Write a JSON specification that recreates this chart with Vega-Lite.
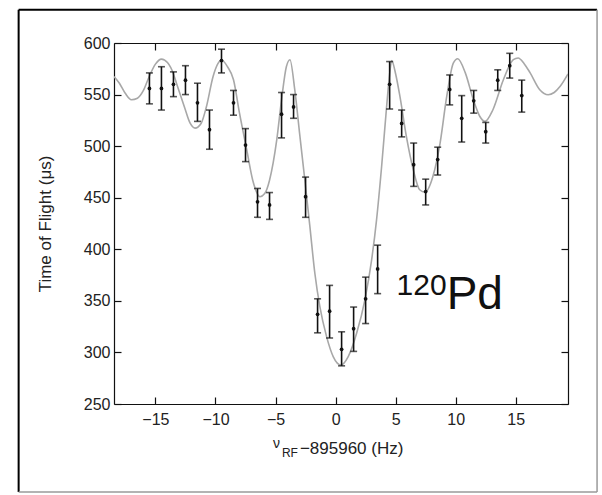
{
  "$schema": "https://vega.github.io/schema/vega-lite/v6.json",
  "autosize": "none",
  "width": 454,
  "height": 361,
  "padding": {"left": 114, "top": 43, "right": 34, "bottom": 91},
  "background": "white",
  "config": {
    "view": {"stroke": null},
    "font": "Liberation Sans",
    "axis": {
      "domainColor": "#111",
      "domainWidth": 1.2,
      "tickColor": "#111",
      "tickWidth": 1.2,
      "tickSize": -7,
      "grid": false,
      "labelFont": "Liberation Sans",
      "labelFontSize": 16,
      "labelColor": "#222",
      "titleFont": "Liberation Sans",
      "titleFontWeight": "normal",
      "titleColor": "#222"
    }
  },
  "datasets": {
    "meas": [
      {"f": -15.5, "tof": 556, "lo": 541, "hi": 571},
      {"f": -14.5, "tof": 556, "lo": 535, "hi": 577},
      {"f": -13.5, "tof": 560, "lo": 548, "hi": 572},
      {"f": -12.5, "tof": 564, "lo": 550, "hi": 578},
      {"f": -11.5, "tof": 542, "lo": 524, "hi": 561},
      {"f": -10.5, "tof": 516, "lo": 497, "hi": 535},
      {"f": -9.5, "tof": 583, "lo": 571, "hi": 594},
      {"f": -8.5, "tof": 542, "lo": 530, "hi": 554},
      {"f": -7.5, "tof": 501, "lo": 485, "hi": 517},
      {"f": -6.5, "tof": 446, "lo": 431, "hi": 459},
      {"f": -5.5, "tof": 443, "lo": 429, "hi": 455},
      {"f": -4.5, "tof": 531, "lo": 508, "hi": 552},
      {"f": -3.5, "tof": 538, "lo": 527, "hi": 550},
      {"f": -2.5, "tof": 451, "lo": 431, "hi": 470},
      {"f": -1.5, "tof": 337, "lo": 319, "hi": 352},
      {"f": -0.5, "tof": 340, "lo": 314, "hi": 365},
      {"f": 0.5, "tof": 303, "lo": 287, "hi": 320},
      {"f": 1.5, "tof": 323, "lo": 301, "hi": 344},
      {"f": 2.5, "tof": 352, "lo": 328, "hi": 373},
      {"f": 3.5, "tof": 381, "lo": 357, "hi": 404},
      {"f": 4.5, "tof": 560, "lo": 536, "hi": 582},
      {"f": 5.5, "tof": 522, "lo": 509, "hi": 535},
      {"f": 6.5, "tof": 482, "lo": 461, "hi": 503},
      {"f": 7.5, "tof": 456, "lo": 443, "hi": 468},
      {"f": 8.5, "tof": 487, "lo": 472, "hi": 499},
      {"f": 9.5, "tof": 555, "lo": 540, "hi": 569},
      {"f": 10.5, "tof": 527, "lo": 504, "hi": 549},
      {"f": 11.5, "tof": 544, "lo": 532, "hi": 554},
      {"f": 12.5, "tof": 514, "lo": 503, "hi": 523},
      {"f": 13.5, "tof": 564, "lo": 554, "hi": 574},
      {"f": 14.5, "tof": 578, "lo": 566, "hi": 590},
      {"f": 15.5, "tof": 549, "lo": 533, "hi": 564}
    ],
    "fit": [
      {"f": -18.45, "tof": 567.6}, {"f": -18.0, "tof": 561}, {"f": -17.5, "tof": 551},
      {"f": -17.0, "tof": 545}, {"f": -16.5, "tof": 546.5}, {"f": -16.0, "tof": 554},
      {"f": -15.5, "tof": 568}, {"f": -15.0, "tof": 579.5}, {"f": -14.5, "tof": 584.4},
      {"f": -14.0, "tof": 581}, {"f": -13.5, "tof": 570}, {"f": -13.25, "tof": 561},
      {"f": -12.6, "tof": 538.5}, {"f": -12.1, "tof": 522}, {"f": -11.7, "tof": 517.5},
      {"f": -11.2, "tof": 522}, {"f": -10.75, "tof": 538.5}, {"f": -10.2, "tof": 567.6},
      {"f": -9.8, "tof": 580}, {"f": -9.5, "tof": 583.5}, {"f": -9.0, "tof": 577},
      {"f": -8.5, "tof": 564.4}, {"f": -8.0, "tof": 532}, {"f": -7.4, "tof": 496.5},
      {"f": -6.9, "tof": 467}, {"f": -6.3, "tof": 451}, {"f": -5.9, "tof": 454},
      {"f": -5.5, "tof": 467}, {"f": -4.9, "tof": 506}, {"f": -4.5, "tof": 545},
      {"f": -4.1, "tof": 577}, {"f": -3.8, "tof": 583.8}, {"f": -3.4, "tof": 554.7},
      {"f": -3.0, "tof": 512.7}, {"f": -2.56, "tof": 467}, {"f": -2.14, "tof": 422},
      {"f": -1.73, "tof": 377}, {"f": -1.31, "tof": 344.4}, {"f": -0.75, "tof": 315.3},
      {"f": -0.2, "tof": 296}, {"f": 0.44, "tof": 287.8}, {"f": 1.05, "tof": 296},
      {"f": 1.75, "tof": 318.6}, {"f": 2.44, "tof": 351}, {"f": 3.0, "tof": 389.7},
      {"f": 3.41, "tof": 428.5}, {"f": 3.83, "tof": 480}, {"f": 4.25, "tof": 538.5},
      {"f": 4.5, "tof": 570}, {"f": 4.67, "tof": 582.9}, {"f": 5.0, "tof": 570},
      {"f": 5.36, "tof": 548}, {"f": 5.9, "tof": 509}, {"f": 6.47, "tof": 477},
      {"f": 7.0, "tof": 457.7}, {"f": 7.44, "tof": 455.4}, {"f": 8.1, "tof": 470.6},
      {"f": 8.7, "tof": 503}, {"f": 9.25, "tof": 548}, {"f": 9.8, "tof": 580.5},
      {"f": 10.17, "tof": 584.8}, {"f": 10.8, "tof": 571}, {"f": 11.47, "tof": 545},
      {"f": 12.0, "tof": 529}, {"f": 12.44, "tof": 524}, {"f": 13.1, "tof": 535.3},
      {"f": 13.97, "tof": 564.4}, {"f": 14.8, "tof": 583.8}, {"f": 15.2, "tof": 585.5},
      {"f": 15.7, "tof": 580}, {"f": 16.2, "tof": 571}, {"f": 17.0, "tof": 554.7},
      {"f": 17.7, "tof": 549.8}, {"f": 18.2, "tof": 552}, {"f": 18.7, "tof": 558},
      {"f": 19.35, "tof": 570}
    ]
  },
  "resolve": {"axis": {"x": "independent", "y": "independent"}},
  "layer": [
    {
      "data": {"name": "fit"},
      "mark": {"type": "line", "color": "#a8a8a8", "strokeWidth": 1.6, "interpolate": "monotone", "clip": true},
      "encoding": {
        "x": {"field": "f", "type": "quantitative", "scale": {"domain": [-18.45, 19.35], "nice": false, "zero": false},
              "axis": {"orient": "top", "labels": false, "title": null, "values": [-15, -10, -5, 0, 5, 10, 15]}},
        "y": {"field": "tof", "type": "quantitative", "scale": {"domain": [250, 600], "nice": false, "zero": false},
              "axis": {"orient": "right", "labels": false, "title": null, "values": [250, 300, 350, 400, 450, 500, 550, 600]}}
      }
    },
    {
      "data": {"name": "meas"},
      "mark": {"type": "rule", "color": "#111", "strokeWidth": 1.6},
      "encoding": {
        "x": {"field": "f", "type": "quantitative", "scale": {"domain": [-18.45, 19.35], "nice": false, "zero": false},
              "axis": {"orient": "bottom", "title": null, "values": [-15, -10, -5, 0, 5, 10, 15], "labelPadding": 14, "labelFontSize": 16}},
        "y": {"field": "lo", "type": "quantitative", "scale": {"domain": [250, 600], "nice": false, "zero": false},
              "axis": {"orient": "left", "title": "Time of Flight (μs)", "titleFontSize": 17, "titlePadding": 29, "titleColor": "#222",
                       "values": [250, 300, 350, 400, 450, 500, 550, 600], "labelPadding": 11, "labelFontSize": 16}},
        "y2": {"field": "hi"}
      }
    },
    {
      "data": {"name": "meas"},
      "mark": {"type": "tick", "orient": "horizontal", "color": "#111", "size": 7, "thickness": 1.6},
      "encoding": {
        "x": {"field": "f", "type": "quantitative", "axis": null, "scale": {"domain": [-18.45, 19.35], "nice": false, "zero": false}},
        "y": {"field": "lo", "type": "quantitative", "axis": null, "scale": {"domain": [250, 600], "nice": false, "zero": false}}
      }
    },
    {
      "data": {"name": "meas"},
      "mark": {"type": "tick", "orient": "horizontal", "color": "#111", "size": 7, "thickness": 1.6},
      "encoding": {
        "x": {"field": "f", "type": "quantitative", "axis": null, "scale": {"domain": [-18.45, 19.35], "nice": false, "zero": false}},
        "y": {"field": "hi", "type": "quantitative", "axis": null, "scale": {"domain": [250, 600], "nice": false, "zero": false}}
      }
    },
    {
      "data": {"name": "meas"},
      "mark": {"type": "circle", "color": "#111", "size": 14, "opacity": 1},
      "encoding": {
        "x": {"field": "f", "type": "quantitative", "axis": null, "scale": {"domain": [-18.45, 19.35], "nice": false, "zero": false}},
        "y": {"field": "tof", "type": "quantitative", "axis": null, "scale": {"domain": [250, 600], "nice": false, "zero": false}}
      }
    },
    {
      "data": {"values": [{}]},
      "mark": {"type": "text", "text": "120", "fontSize": 30, "align": "left", "baseline": "alphabetic", "color": "#111", "font": "Liberation Sans"},
      "encoding": {
        "x": {"datum": 5.08, "type": "quantitative", "axis": null},
        "y": {"datum": 355.8, "type": "quantitative", "axis": null}
      }
    },
    {
      "data": {"values": [{}]},
      "mark": {"type": "text", "text": "Pd", "fontSize": 46, "align": "left", "baseline": "alphabetic", "color": "#111", "font": "Liberation Sans"},
      "encoding": {
        "x": {"datum": 9.25, "type": "quantitative", "axis": null},
        "y": {"datum": 342.2, "type": "quantitative", "axis": null}
      }
    },
    {
      "data": {"values": [{}]},
      "mark": {"type": "text", "text": "ν", "fontSize": 14, "align": "left", "baseline": "alphabetic", "color": "#222", "clip": false},
      "encoding": {
        "x": {"datum": -5.22, "type": "quantitative", "axis": null},
        "y": {"datum": 207.3, "type": "quantitative", "axis": null}
      }
    },
    {
      "data": {"values": [{}]},
      "mark": {"type": "text", "text": "RF", "fontSize": 12, "align": "left", "baseline": "alphabetic", "color": "#222", "clip": false},
      "encoding": {
        "x": {"datum": -4.47, "type": "quantitative", "axis": null},
        "y": {"datum": 198.6, "type": "quantitative", "axis": null}
      }
    },
    {
      "data": {"values": [{}]},
      "mark": {"type": "text", "text": "−895960 (Hz)", "fontSize": 17, "align": "left", "baseline": "alphabetic", "color": "#222", "clip": false},
      "encoding": {
        "x": {"datum": -2.97, "type": "quantitative", "axis": null},
        "y": {"datum": 201.5, "type": "quantitative", "axis": null}
      }
    },
    {
      "data": {"values": [{}]},
      "mark": {"type": "rule", "color": "#000", "strokeWidth": 2, "clip": false},
      "encoding": {
        "x": {"datum": -26.39, "type": "quantitative", "axis": null},
        "y": {"datum": 164.6, "type": "quantitative", "axis": null},
        "y2": {"datum": 632.3}
      }
    },
    {
      "data": {"values": [{}]},
      "mark": {"type": "rule", "color": "#000", "strokeWidth": 2, "clip": false},
      "encoding": {
        "x": {"datum": -26.39, "type": "quantitative", "axis": null},
        "x2": {"datum": 21.77},
        "y": {"datum": 632.3, "type": "quantitative", "axis": null}
      }
    },
    {
      "data": {"values": [{}]},
      "mark": {"type": "rule", "color": "#9a9a9a", "strokeWidth": 1.5, "clip": false},
      "encoding": {
        "x": {"datum": 21.77, "type": "quantitative", "axis": null},
        "y": {"datum": 164.6, "type": "quantitative", "axis": null},
        "y2": {"datum": 632.3}
      }
    },
    {
      "data": {"values": [{}]},
      "mark": {"type": "rule", "color": "#9a9a9a", "strokeWidth": 1.5, "clip": false},
      "encoding": {
        "x": {"datum": -26.39, "type": "quantitative", "axis": null},
        "x2": {"datum": 21.77},
        "y": {"datum": 164.6, "type": "quantitative", "axis": null}
      }
    }
  ]
}
